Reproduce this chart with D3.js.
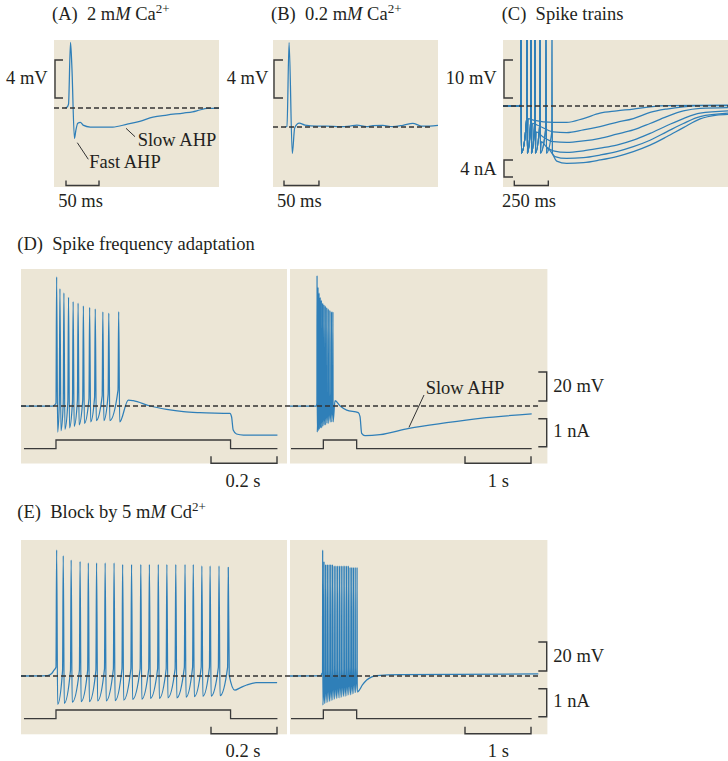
<!DOCTYPE html>
<html>
<head>
<meta charset="utf-8">
<script src="https://cdn.jsdelivr.net/npm/d3@7"></script>
<style>
  body { margin: 0; background: #fff; }
  svg text { font-family: "Liberation Serif", serif; font-size: 18.5px; fill: #231f20; white-space: pre; }
</style>
</head>
<body>
<div id="fig"></div>
<script>
// ---- values (time in ms, membrane potential in mV from rest, current in nA) ----

// (A) single spike, 2 mM Ca2+
const traceA = [[17,0],[20,0.1],[22,0.4],[25,6.9],[27,4.5],[31,-3.2],[33,-2.4],[36,-1.6],[40,-1.5],[44,-1.8],
  [55,-2.0],[70,-2.0],[89,-2.0],[111,-1.7],[130,-1.4],[150,-0.95],[171,-0.74],[196,-0.53],[210,-0.4],
  [221,-0.21],[232,-0.05],[250,0]];

// (B) single spike, 0.2 mM Ca2+
const traceB = [[17,0],[20,0.05],[23,8.9],[27.6,-2.8],[31,-0.1],[37.6,0.4],[45.7,0.2],[62,0.1],[77,0.1],
  [96,0.03],[110,0.1],[120,0.2],[134,0.03],[143,0.14],[157,0.18],[171,0.03],[186,0.18],[200,0.39],
  [212,0.1],[224,0.1],[236,0.18]];

// (C) spike trains: shared spike times, each trace k fires the first k+2 of them
const cSpikeT = [132, 176, 206, 235, 272, 316, 360];
const cThresh = [0.5, -3.5, -4, -4.5, -5, -6, -7];
const cPre = [[0,0],[125,0]];
const cAHP = [
  [[186,-3.3],[223,-3.7],[370,-4.3],[468,-4.3],[591,-3.3],[713,-1.9],[836,-1.3],[958,-0.8],[1081,-0.2],[1203,0.1],[1654,0.2]],
  [[216,-4.6],[250,-5.0],[370,-6.8],[468,-7.0],[591,-6.3],[713,-5.4],[836,-4.3],[958,-3.3],[1081,-1.7],[1203,-0.8],[1326,-0.2],[1449,0.1],[1654,0.1]],
  [[245,-6.8],[290,-8.0],[370,-9.4],[468,-9.6],[591,-9.2],[713,-8.5],[836,-7.4],[958,-6.3],[1081,-4.6],[1203,-2.8],[1326,-1.3],[1449,-0.6],[1654,-0.4]],
  [[282,-9.4],[320,-10.8],[370,-11.8],[468,-12.2],[591,-11.8],[713,-11.1],[836,-10.3],[958,-9.0],[1081,-7.2],[1203,-5.2],[1326,-3.3],[1449,-1.9],[1654,-1.3]],
  [[326,-11.1],[382,-13.3],[468,-13.8],[591,-13.6],[713,-12.9],[836,-12.0],[958,-10.7],[1081,-9.0],[1203,-6.8],[1326,-4.6],[1449,-2.8],[1654,-1.9]],
  [[370,-13.0],[395,-14.5],[468,-15.1],[591,-14.9],[713,-14.2],[836,-13.3],[958,-12.0],[1081,-10.3],[1203,-8.1],[1326,-5.7],[1449,-3.4],[1571,-2.4],[1654,-2.2]]
];

// (D) spike frequency adaptation, fast sweep
const dSpikeT = [108, 118, 130, 144, 158, 173, 189, 208, 225, 248, 266, 296];
const dPeak   = [89, 81, 78, 75, 72, 71, 69, 68, 67, 65, 64, 65];
const dTrough = [-18, -17, -16, -15, -14, -13, -12, -11, -10, -10, -10, -11];
const dThresh = [2, 2, 2, 3, 3, 4, 4, 5, 6, 7, 8, 11];
const dPre  = [[0,0],[95,0],[103,1]];
const dTail = [[325,4.1],[340,3.7],[391,0],[441,-2.3],[492,-3.9],[542,-4.6],[633,-5.1],[638,-7.4],
  [643,-16.6],[653,-19.3],[674,-20],[777,-20]];

// (D) slow sweep
const drSpikeT = [410, 424, 440, 457, 475, 494, 514, 535, 557, 580, 604, 628, 650];
const drPeak   = [90, 82, 78, 75, 73, 71, 70, 69, 68, 67, 66, 65, 65];
const drTrough = [-18, -17, -16, -15, -15, -14, -13, -13, -12, -12, -11, -11, -11];
const drThresh = [2, 2, 2, 3, 3, 4, 4, 5, 6, 7, 8, 9, 11];
const drPre  = [[0,0],[395,0],[405,1]];
const drTail = [[682,3.7],[760,0],[859,-2.8],[1035,-4.6],[1061,-7.4],[1086,-18.9],[1136,-20.5],
  [1364,-19.8],[1803,-15.4],[2374,-11.5],[2879,-8.5],[3662,-5.5]];

// (E) block by 5 mM Cd2+, fast sweep
const eSpikeT = [108, 128, 152, 179, 204, 229, 255, 282, 308, 335, 363, 389, 416, 442, 469, 497, 522, 548, 573, 600, 628];
const ePeak   = [87, 83, 80, 79, 78, 78, 78, 78, 77, 77, 77, 77, 77, 77, 77, 77, 77, 76, 76, 76, 75];
const eTrough = [-19.5, -18.8, -18.1, -17.7, -17.7, -17.2, -17.2, -17.0, -16.6, -16.1, -15.9, -15.4, -15.4,
  -15.0, -15.0, -14.6, -14.3, -14.0, -13.8, -13.6, 0.5];
const eThresh = [6, 4, 4, 4, 4, 4, 5, 5, 5, 5, 5, 5, 5, 5, 5, 6, 6, 6, 6, 6, 6];
const ePre  = [[0,0],[80,0.3],[92,1.5],[100,4]];
const eTail = [[648,-9.7],[665,-8],[684,-6.2],[714,-4.6],[776,-4.6]];

// (E) slow sweep
const erSpikeT = [495, 515, 540, 566, 592, 617, 643, 670, 696, 722, 750, 777, 804, 830, 857, 884, 910, 935, 961, 988, 1016];
const erPeak   = [87, 79, 77, 77, 77, 77, 77, 76, 76, 76, 76, 76, 76, 76, 76, 76, 75, 75, 75, 75, 75];
const erTrough = [-20, -19, -18.5, -18, -17.5, -17, -16.5, -16, -15.5, -15, -15, -14.5, -14, -14, -13.5,
  -13, -13, -12.5, -12, -11.5, -11];
const erThresh = [2, 4, 4, 4, 4, 4, 5, 5, 5, 5, 5, 5, 5, 5, 5, 6, 6, 6, 6, 6, 6];
const erPre  = [[0,0],[470,0.3],[485,2]];
const erTail = [[1030,-10.8],[1100,-6],[1162,-2.8],[1240,-0.6],[1314,0.2],[1667,1.0],[3762,1.4]];

// injected current steps
const iFast = [[9,0],[106,0],[106,0.31],[635,0.31],[635,0],[777,0]];
const iSlow = [[15,0],[505,0],[505,0.31],[1010,0.31],[1010,0],[3662,0]];

// ---- drawing ----
const BG = '#ece6d6', BLUE = '#2f7fb8', INK = '#3a3a3a';
const svg = d3.select('#fig').append('svg').attr('width', 728).attr('height', 761);

// join the spike list of a train into one point list
const pick = (a, i) => Array.isArray(a) ? a[i] : a;
function train(pre, times, peaks, troughs, thresh, tail) {
  const pts = pre.slice();
  times.forEach((t, i) => {
    pts.push([t - 2, pick(thresh, i)], [t, pick(peaks, i)], [t + 3, pick(troughs, i)]);
  });
  return pts.concat(tail);
}

let clipN = 0;
function makePanel(box, tMax, rest, vUnit, vPx, iRest) {
  const [x0, y0, x1, y1] = box;
  svg.append('rect').attr('x', x0).attr('y', y0).attr('width', x1 - x0).attr('height', y1 - y0).attr('fill', BG);
  const id = 'clip' + (clipN++);
  svg.append('clipPath').attr('id', id).append('rect')
    .attr('x', x0).attr('y', y0).attr('width', x1 - x0).attr('height', y1 - y0);
  return {
    x: d3.scaleLinear().domain([0, tMax]).range([x0, x1]),
    y: d3.scaleLinear().domain([0, vUnit]).range([rest, rest - vPx]),
    iy: iRest != null ? d3.scaleLinear().domain([0, 1]).range([iRest, iRest - 28]) : null,
    g: svg.append('g').attr('clip-path', `url(#${id})`)
  };
}

function drawTrace(p, pts) {
  const line = d3.line().x(d => p.x(d[0])).y(d => p.y(d[1])).curve(d3.curveMonotoneX);
  p.g.append('path').attr('d', line(pts)).attr('fill', 'none')
    .attr('stroke', BLUE).attr('stroke-width', 1.25).attr('stroke-linejoin', 'round');
}
function drawCurrent(p, pts) {
  const line = d3.line().x(d => p.x(d[0])).y(d => p.iy(d[1]));
  p.g.append('path').attr('d', line(pts)).attr('fill', 'none')
    .attr('stroke', INK).attr('stroke-width', 1.3);
}
function dashed(xa, xb, y) {
  svg.append('line').attr('x1', xa).attr('x2', xb).attr('y1', y).attr('y2', y)
    .attr('stroke', '#333').attr('stroke-width', 1.3).attr('stroke-dasharray', '5,3');
}
function bracket(x, yBottom, len, tick) {
  // tick > 0 opens to the right "[", tick < 0 opens to the left "]"
  svg.append('path').attr('d', `M${x + tick},${yBottom - len}H${x}V${yBottom}H${x + tick}`)
    .attr('fill', 'none').attr('stroke', INK).attr('stroke-width', 1.4);
}
function timeBar(xa, len, y, tick) {
  svg.append('path').attr('d', `M${xa},${y - tick}V${y}H${xa + len}V${y - tick}`)
    .attr('fill', 'none').attr('stroke', INK).attr('stroke-width', 1.4);
}
function text(x, y, parts, anchor) {
  const t = svg.append('text').attr('x', x).attr('y', y).attr('text-anchor', anchor || 'start');
  parts.forEach(s => {
    if (typeof s === 'string') { t.append('tspan').text(s); return; }
    const ts = t.append('tspan').text(s.t);
    if (s.i) ts.attr('font-style', 'italic');
    if (s.sup) ts.attr('dy', -7).attr('font-size', 13);
  });
}
function leader(xa, ya, xb, yb) {
  svg.append('line').attr('x1', xa).attr('y1', ya).attr('x2', xb).attr('y2', yb)
    .attr('stroke', '#333').attr('stroke-width', 1);
}

// (A)
const pA = makePanel([54, 40, 219, 187], 250, 108, 4, 38);
dashed(54, 219, 108);
drawTrace(pA, traceA);
bracket(55, 98, pA.y(0) - pA.y(4), 8);
timeBar(66, pA.x(50) - pA.x(0), 185.5, 5);
leader(77.3, 142.7, 88.3, 159.3);
leader(126, 128.3, 135, 136.7);
text(52, 20, ['(A)  2 m', {t: 'M', i: true}, ' Ca', {t: '2+', sup: true}]);
text(47.7, 84, ['4 mV'], 'end');
text(80.5, 206.5, ['50 ms'], 'middle');
text(137.7, 145.7, ['Slow AHP']);
text(89.3, 168.3, ['Fast AHP']);

// (B)
const pB = makePanel([273, 40, 438, 187], 236, 127, 4, 38);
dashed(273, 433, 127);
drawTrace(pB, traceB);
bracket(274, 98, pB.y(0) - pB.y(4), 9);
timeBar(284, pB.x(50) - pB.x(0), 185.5, 5);
text(271, 20, ['(B)  0.2 m', {t: 'M', i: true}, ' Ca', {t: '2+', sup: true}]);
text(268.3, 84, ['4 mV'], 'end');
text(299.3, 206.5, ['50 ms'], 'middle');

// (C)
const pC = makePanel([503, 40, 728, 187], 1654, 106, 10, 38);
cAHP.forEach((tail, k) => {
  drawTrace(pC, train(cPre, cSpikeT.slice(0, k + 2), 25, -12.4, cThresh, tail));
});
dashed(503, 728, 106);
bracket(504, 98, pC.y(0) - pC.y(10), 9);
bracket(504, 177, 17, 9);
timeBar(514.3, pC.x(250) - pC.x(0), 185.5, 5);
text(501.7, 19.5, ['(C)  Spike trains']);
text(496.7, 84, ['10 mV'], 'end');
text(496.7, 175, ['4 nA'], 'end');
text(529, 206.5, ['250 ms'], 'middle');

// (D)
const pDL = makePanel([21, 269, 287, 463.5], 806, 406, 20, 29, 448.7);
const pDR = makePanel([290, 269, 547.4, 463.5], 3900, 406, 20, 29, 448.7);
drawTrace(pDL, train(dPre, dSpikeT, dPeak, dTrough, dThresh, dTail));
drawCurrent(pDL, iFast);
drawTrace(pDR, train(drPre, drSpikeT, drPeak, drTrough, drThresh, drTail));
drawCurrent(pDR, iSlow);
dashed(21, 540, 406);
timeBar(211, pDL.x(200) - pDL.x(0), 463.3, 7);
timeBar(465, pDR.x(1000) - pDR.x(0), 463.3, 7);
bracket(546.7, 401, pDR.y(0) - pDR.y(20), -8.4);
bracket(546.7, 446.7, pDR.iy(0) - pDR.iy(1), -8.4);
leader(424, 395, 409, 427.3);
text(17.3, 250, ['(D)  Spike frequency adaptation']);
text(425.7, 394, ['Slow AHP']);
text(553.3, 391.7, ['20 mV']);
text(553.3, 437.3, ['1 nA']);
text(243, 486.5, ['0.2 s'], 'middle');
text(498.3, 486.5, ['1 s'], 'middle');

// (E)
const pEL = makePanel([21, 540, 287, 734.3], 806, 676, 20, 29, 718.7);
const pER = makePanel([290, 540, 547.4, 734.3], 3900, 676, 20, 29, 718.7);
drawTrace(pEL, train(ePre, eSpikeT, ePeak, eTrough, eThresh, eTail));
drawCurrent(pEL, iFast);
drawTrace(pER, train(erPre, erSpikeT, erPeak, erTrough, erThresh, erTail));
drawCurrent(pER, iSlow);
dashed(21, 540, 676);
timeBar(211, pEL.x(200) - pEL.x(0), 733.8, 7);
timeBar(465, pER.x(1000) - pER.x(0), 733.8, 7);
bracket(546.7, 671, pER.y(0) - pER.y(20), -8.4);
bracket(546.7, 716.7, pER.iy(0) - pER.iy(1), -8.4);
text(17.3, 518.3, ['(E)  Block by 5 m', {t: 'M', i: true}, ' Cd', {t: '2+', sup: true}]);
text(553.3, 661.7, ['20 mV']);
text(553.3, 707.3, ['1 nA']);
text(243, 756.5, ['0.2 s'], 'middle');
text(498.3, 756.5, ['1 s'], 'middle');
</script>
</body>
</html>
